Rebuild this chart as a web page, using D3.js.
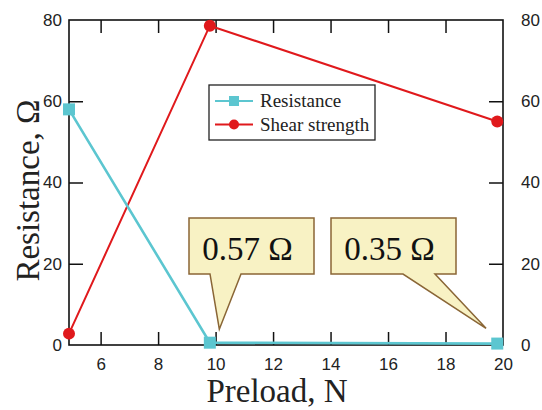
<!DOCTYPE html>
<html>
<head>
<meta charset="utf-8">
<script src="https://cdn.jsdelivr.net/npm/d3@7"></script>
<style>
  body { margin: 0; background: #fff; }
  svg { display: block; }
</style>
</head>
<body>
<div id="chart"></div>
<script>
// data
const preload = [4.9, 9.8, 19.8];
const resistance = [58, 0.57, 0.35];
const shearStrength = [2.8, 78.6, 55];
const xTicks = [6, 8, 10, 12, 14, 16, 18, 20];
const yTicks = [0, 20, 40, 60, 80];
const callouts = [
  { text: "0.57 \u03A9", tipX: 10.13, tipY: 3.9 },
  { text: "0.35 \u03A9", tipX: 19.41, tipY: 4.1 },
];

const W = 542, H = 410;
var margin = { top: 20, right: 39, bottom: 65, left: 69 },
  width = W - margin.left - margin.right,
  height = H - margin.top - margin.bottom;

const svg = d3.select("#chart").append("svg").attr("width", W).attr("height", H);
const g = svg.append("g").attr("transform", `translate(${margin.left},${margin.top})`);

var x = d3.scaleLinear().domain([4.9, 20]).range([0, width]);
var y = d3.scaleLinear().domain([0, 80]).range([height, 0]);

const sans = "'Liberation Sans', Arial, sans-serif";
const serif = "'Liberation Serif', 'Times New Roman', serif";
const cyan = "#5cc6d0", red = "#e0191c";

// ticks all point inward
function styleAxis(sel) {
  sel.select(".domain").remove();
  sel.selectAll(".tick line").attr("stroke", "#111").attr("stroke-width", 1.5);
  sel.selectAll(".tick text").attr("font-family", sans).attr("font-size", 17).attr("fill", "#222");
}

g.append("g")
  .attr("transform", `translate(0,${height})`)
  .call(d3.axisBottom(x).tickValues(xTicks).tickSizeInner(-13).tickPadding(13))
  .call(styleAxis)
  .call((a) => a.selectAll(".tick").filter((d) => d === 20).select("line").remove());

g.append("g")
  .call(d3.axisTop(x).tickValues(xTicks.filter((d) => d < 20)).tickSizeInner(-13).tickFormat(""))
  .call(styleAxis);

g.append("g")
  .call(d3.axisLeft(y).tickValues(yTicks).tickSizeInner(-14).tickPadding(7))
  .call(styleAxis)
  .call((a) => a.selectAll(".tick").filter((d) => d === 0 || d === 80).select("line").remove());

g.append("g")
  .attr("transform", `translate(${width},0)`)
  .call(d3.axisRight(y).tickValues(yTicks).tickSizeInner(-14).tickPadding(18))
  .call(styleAxis)
  .call((a) => a.selectAll(".tick").filter((d) => d === 0 || d === 80).select("line").remove());

// frame
g.append("rect")
  .attr("width", width).attr("height", height)
  .attr("fill", "none").attr("stroke", "#111").attr("stroke-width", 1.6);

// axis titles
svg.append("text")
  .attr("transform", `translate(39,${margin.top + height / 2 + 8}) rotate(-90)`)
  .attr("text-anchor", "middle")
  .attr("font-family", serif).attr("font-size", 33).attr("fill", "#222")
  .text("Resistance, \u03A9");

svg.append("text")
  .attr("x", 277).attr("y", 402)
  .attr("text-anchor", "middle")
  .attr("font-family", serif).attr("font-size", 33).attr("fill", "#222")
  .text("Preload, N");

// series
const resData = preload.map((p, i) => ({ x: p, y: resistance[i] }));
const shearData = preload.map((p, i) => ({ x: p, y: shearStrength[i] }));
const line = d3.line().x((d) => x(d.x)).y((d) => y(d.y));

g.append("path").datum(shearData)
  .attr("d", line).attr("fill", "none").attr("stroke", red).attr("stroke-width", 2);
g.append("path").datum(resData)
  .attr("d", line).attr("fill", "none").attr("stroke", cyan).attr("stroke-width", 2.6);

g.selectAll(".shear").data(shearData).enter().append("circle")
  .attr("class", "shear")
  .attr("cx", (d) => x(d.x)).attr("cy", (d) => y(d.y)).attr("r", 6)
  .attr("fill", red);
g.selectAll(".res").data(resData).enter().append("rect")
  .attr("class", "res")
  .attr("x", (d) => x(d.x) - 6).attr("y", (d) => y(d.y) - 6)
  .attr("width", 12).attr("height", 12)
  .attr("fill", cyan);

// legend
const legend = svg.append("g").attr("transform", "translate(209,85)");
legend.append("rect")
  .attr("width", 166).attr("height", 55)
  .attr("fill", "#fff").attr("stroke", "#222").attr("stroke-width", 1.3);
const items = [
  { name: "Resistance", color: cyan, shape: "square" },
  { name: "Shear strength", color: red, shape: "circle" },
];
const li = legend.selectAll(".legend").data(items).enter().append("g")
  .attr("class", "legend")
  .attr("transform", (d, i) => `translate(0,${16 + i * 23.5})`);
li.append("line")
  .attr("x1", 6).attr("x2", 44)
  .attr("stroke", (d) => d.color).attr("stroke-width", 2.2);
li.filter((d) => d.shape === "square").append("rect")
  .attr("x", 20).attr("y", -5).attr("width", 10).attr("height", 10)
  .attr("fill", (d) => d.color);
li.filter((d) => d.shape === "circle").append("circle")
  .attr("cx", 25).attr("r", 5)
  .attr("fill", (d) => d.color);
li.append("text")
  .attr("x", 51).attr("dy", 6)
  .attr("font-family", serif).attr("font-size", 19).attr("fill", "#222")
  .text((d) => d.name);

// callout boxes
const boxW = 125, boxH = 56, boxTop = 218;
const boxLeft = [189, 331];
const pointer = [[21, 52], [72, 104]];
callouts.forEach((c, i) => {
  const bx = boxLeft[i];
  const tx = margin.left + x(c.tipX), ty = margin.top + y(c.tipY);
  const p = [
    [bx, boxTop], [bx + boxW, boxTop], [bx + boxW, boxTop + boxH],
    [bx + pointer[i][1], boxTop + boxH], [tx, ty],
    [bx + pointer[i][0], boxTop + boxH], [bx, boxTop + boxH],
  ];
  svg.append("path")
    .attr("d", "M" + p.join("L") + "Z")
    .attr("fill", "#f8f2c4").attr("stroke", "#8a6636").attr("stroke-width", 1.5)
    .attr("stroke-linejoin", "miter");
  svg.append("text")
    .attr("x", bx + boxW / 2 - 4).attr("y", boxTop + 42)
    .attr("text-anchor", "middle")
    .attr("font-family", serif).attr("font-size", 33).attr("fill", "#111")
    .text(c.text);
});
</script>
</body>
</html>
